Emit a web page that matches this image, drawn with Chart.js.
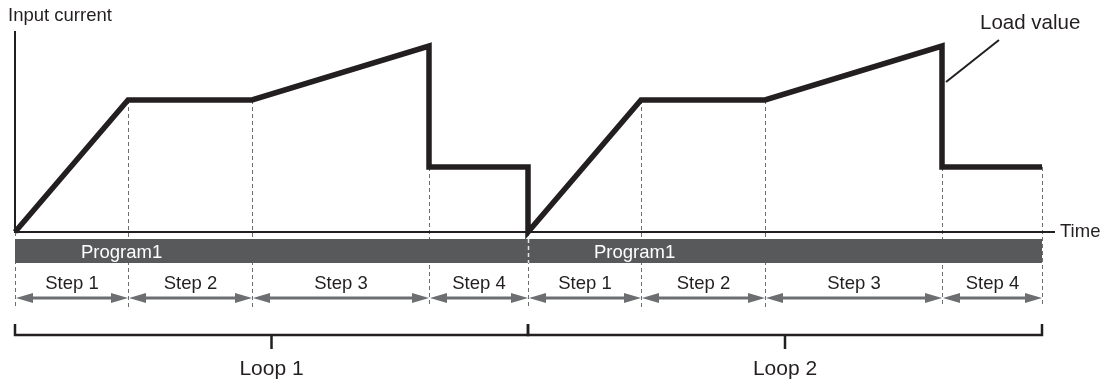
<!DOCTYPE html>
<html>
<head>
<meta charset="utf-8">
<script src="https://cdn.jsdelivr.net/npm/chart.js@4"></script>
<style>
  html, body { margin: 0; padding: 0; background: #fff; }
  #wrap { width: 1107px; height: 383px; position: relative; }
</style>
</head>
<body>
<div id="wrap"><canvas id="chart"></canvas></div>
<script>
// time / current values (arbitrary units)
const timePoints = [0, 113, 237, 414, 414, 513, 513, 626, 750, 927, 927, 1027];
const currentValues = [0, 132, 132, 186, 65, 65, 0, 132, 132, 186, 65, 65];
const stepBounds = [0, 113, 237, 414, 513, 626, 750, 927, 1027];
const stepNames = ['Step 1', 'Step 2', 'Step 3', 'Step 4'];
const loopBounds = [0, 513, 1027];
const loopNames = ['Loop 1', 'Loop 2'];
const programNames = ['Program1', 'Program1'];
const loadValueAt = [927, 150];

const FONT = '"Liberation Sans", Arial, sans-serif';
const INK = '#231f20';
const GREY = '#6d6e71';

const diagramPlugin = {
  id: 'diagram',
  beforeDatasetsDraw(chart) {
    const { ctx, scales: { x, y } } = chart;
    const y0 = y.getPixelForValue(0);
    ctx.save();

    // dashed step boundaries
    ctx.strokeStyle = GREY;
    ctx.lineWidth = 1;
    ctx.setLineDash([4, 3]);
    stepBounds.forEach(t => {
      const vals = currentValues.filter((v, i) => timePoints[i] === t);
      const px = Math.round(x.getPixelForValue(t)) + 0.5;
      ctx.beginPath();
      ctx.moveTo(px, y.getPixelForValue(Math.min(...vals)));
      ctx.lineTo(px, 307);
      ctx.stroke();
    });
    ctx.setLineDash([]);

    // axes
    ctx.strokeStyle = INK;
    ctx.lineWidth = 2;
    ctx.beginPath();
    ctx.moveTo(x.left, y.top);
    ctx.lineTo(x.left, y0);
    ctx.lineTo(x.right, y0);
    ctx.stroke();

    // program bars
    const barTop = 239, barBottom = 263;
    ctx.fillStyle = '#58595b';
    for (let i = 0; i < loopNames.length; i++) {
      const a = x.getPixelForValue(loopBounds[i]);
      const b = x.getPixelForValue(loopBounds[i + 1]);
      ctx.fillRect(a, barTop, b - a, barBottom - barTop);
    }
    // light gap at loop boundary
    ctx.strokeStyle = '#e6e6e6';
    ctx.lineWidth = 1.5;
    ctx.setLineDash([4, 3]);
    for (let i = 1; i < loopNames.length; i++) {
      const px = x.getPixelForValue(loopBounds[i]) + 0.5;
      ctx.beginPath();
      ctx.moveTo(px, barTop);
      ctx.lineTo(px, barBottom);
      ctx.stroke();
    }
    ctx.setLineDash([]);
    ctx.fillStyle = '#ffffff';
    ctx.font = '18.5px ' + FONT;
    ctx.textAlign = 'left';
    ctx.textBaseline = 'middle';
    programNames.forEach((name, i) => {
      ctx.fillText(name, x.getPixelForValue(loopBounds[i]) + 66, 253);
    });

    // step arrows
    ctx.fillStyle = GREY;
    ctx.strokeStyle = GREY;
    ctx.lineWidth = 3;
    const ay = 298;
    for (let i = 0; i < stepBounds.length - 1; i++) {
      const a = x.getPixelForValue(stepBounds[i]) + 1;
      const b = x.getPixelForValue(stepBounds[i + 1]);
      ctx.beginPath();
      ctx.moveTo(a + 10, ay);
      ctx.lineTo(b - 10, ay);
      ctx.stroke();
      ctx.beginPath();
      ctx.moveTo(a, ay);
      ctx.lineTo(a + 17, ay - 5);
      ctx.lineTo(a + 17, ay + 5);
      ctx.closePath();
      ctx.fill();
      ctx.beginPath();
      ctx.moveTo(b, ay);
      ctx.lineTo(b - 17, ay - 5);
      ctx.lineTo(b - 17, ay + 5);
      ctx.closePath();
      ctx.fill();
      ctx.fillStyle = INK;
      ctx.font = '18.5px ' + FONT;
      ctx.textAlign = 'center';
      ctx.fillText(stepNames[i % stepNames.length], (a + b) / 2, 284);
      ctx.fillStyle = GREY;
    }

    // loop brackets
    ctx.strokeStyle = INK;
    ctx.lineWidth = 2.5;
    for (let i = 0; i < loopNames.length; i++) {
      const a = x.getPixelForValue(loopBounds[i]);
      const b = x.getPixelForValue(loopBounds[i + 1]);
      const m = (a + b) / 2;
      ctx.beginPath();
      ctx.moveTo(a, 324);
      ctx.lineTo(a, 335);
      ctx.lineTo(b, 335);
      ctx.lineTo(b, 324);
      ctx.moveTo(m, 335);
      ctx.lineTo(m, 349);
      ctx.stroke();
      ctx.fillStyle = INK;
      ctx.font = '21px ' + FONT;
      ctx.textAlign = 'center';
      ctx.fillText(loopNames[i], m, 369);
    }

    // axis titles
    ctx.fillStyle = INK;
    ctx.font = '18.5px ' + FONT;
    ctx.textAlign = 'left';
    ctx.fillText('Input current', 8, 16);
    ctx.fillText('Time', x.right + 5, y0);
    ctx.restore();
  },
  afterDraw(chart) {
    const { ctx, scales: { x, y } } = chart;
    ctx.save();
    const px = x.getPixelForValue(loadValueAt[0]) + 4;
    const py = y.getPixelForValue(loadValueAt[1]);
    ctx.strokeStyle = INK;
    ctx.lineWidth = 2;
    ctx.beginPath();
    ctx.moveTo(px, py);
    ctx.lineTo(px + 53, py - 42);
    ctx.stroke();
    ctx.fillStyle = INK;
    ctx.font = '20.5px ' + FONT;
    ctx.textAlign = 'left';
    ctx.textBaseline = 'middle';
    ctx.fillText('Load value', 980, 23);
    ctx.restore();
  }
};

new Chart(document.getElementById('chart'), {
  type: 'line',
  data: {
    datasets: [{
      data: timePoints.map((t, i) => ({ x: t, y: currentValues[i] })),
      borderColor: INK,
      borderWidth: 5.5,
      borderJoinStyle: 'miter',
      pointRadius: 0,
      tension: 0,
      clip: false
    }]
  },
  options: {
    responsive: true,
    maintainAspectRatio: false,
    animation: false,
    layout: { padding: { left: 15, right: 52, top: 31, bottom: 151 } },
    scales: {
      x: { type: 'linear', min: 0, max: 1040, display: false },
      y: { min: 0, max: 201, display: false }
    },
    plugins: { legend: { display: false }, tooltip: { enabled: false } }
  },
  plugins: [diagramPlugin]
});
</script>
</body>
</html>
